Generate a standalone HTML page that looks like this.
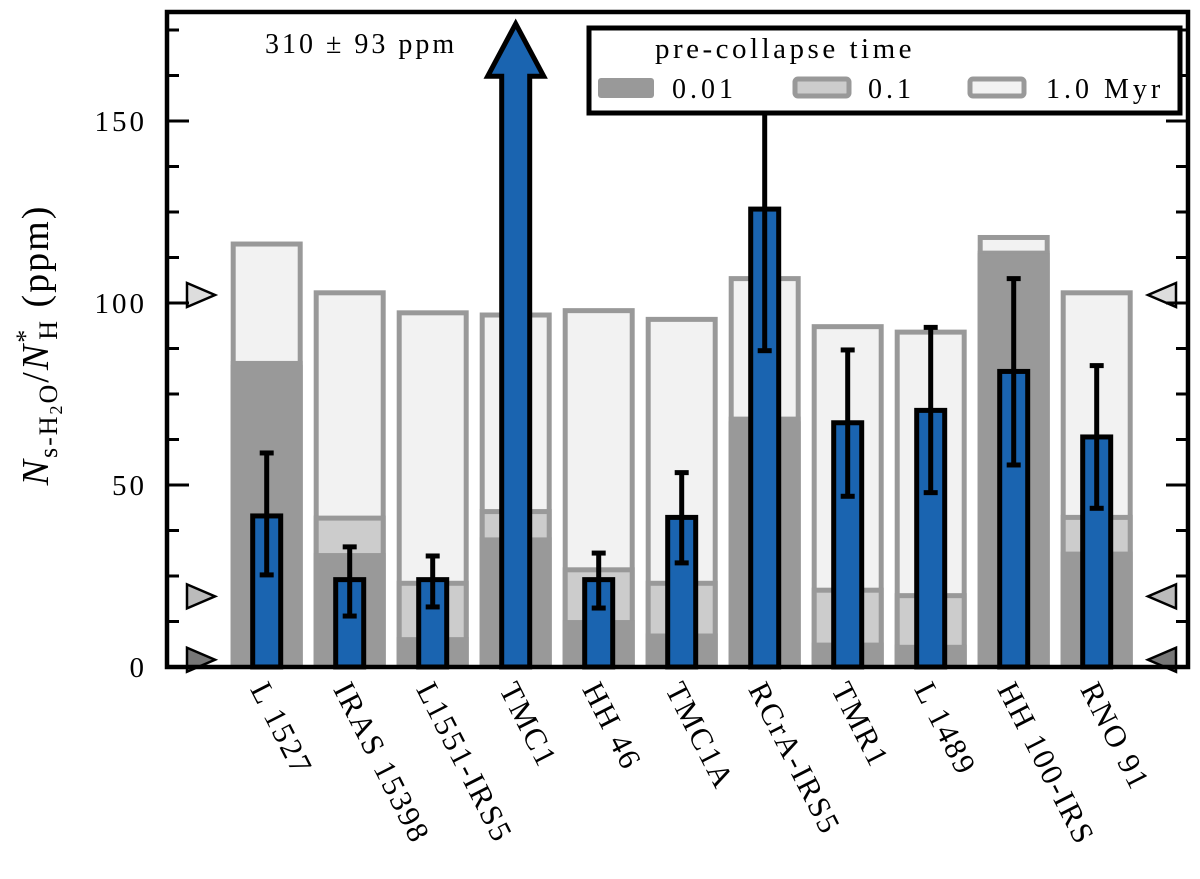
<!DOCTYPE html>
<html><head><meta charset="utf-8"><style>
body{margin:0;background:#fff}
svg text{font-family:"Liberation Serif",serif;fill:#000}
</style></head><body>
<svg id="chart" width="1200" height="874" viewBox="0 0 1200 874" xmlns="http://www.w3.org/2000/svg">
<g id="bg"></g><g id="bars"></g>
</svg>
<script>
const categories=["L 1527","IRAS 15398","L1551-IRS5","TMC1","HH 46","TMC1A","RCrA-IRS5","TMR1","L 1489","HH 100-IRS","RNO 91"];
const model001=[83,31.3,8.2,35.6,12.9,9.2,67.5,6.7,6.1,113.7,31.7];
const model01=[83.4,40.9,23,42.7,26.7,23,68.1,21.1,19.6,113.7,41.1];
const model10=[116.2,102.8,97.3,96.7,97.9,95.5,106.7,93.5,92,118,102.8];
const observed=[41.5,24,24,310,24,41.1,125.8,67.1,70.5,81.2,63.2];
const errLow=[25.3,14,16.5,217,16.2,28.6,86.9,46.9,47.9,55.5,43.6];
const errHigh=[58.8,33,30.5,403,31.3,53.4,164.7,87.1,93.3,106.7,82.8];
const yTicks=[0,50,100,150];
const markerVals=[2,19.4,102.2];

const NS="http://www.w3.org/2000/svg";
const svg=document.getElementById('chart');
const bg=document.getElementById('bg'), fg=document.getElementById('bars');
const X0=167,X1=1188,Y0=12,Y1=667;
const y=v=>Y1-v*3.64;
const x=i=>266.7+83*i;
function el(t,a,p){const e=document.createElementNS(NS,t);for(const k in a)e.setAttribute(k,a[k]);(p||svg).appendChild(e);return e;}

const clip=el('clipPath',{id:'pc'});el('rect',{x:X0,y:Y0,width:X1-X0,height:Y1-Y0},clip);
bg.setAttribute('clip-path','url(#pc)');

categories.forEach((c,i)=>{
  const cx=x(i),w=67;
  const r1=el('rect',{x:cx-w/2,y:y(model10[i]),width:w,height:Y1-y(model10[i])+5,fill:'#f2f2f2',stroke:'#999','stroke-width':5},bg);
  
  
  const r2=el('rect',{x:cx-w/2,y:y(model01[i]),width:w,height:Y1-y(model01[i])+5,fill:'#ccc',stroke:'#999','stroke-width':5},bg);
  
  
  const r3=el('rect',{x:cx-w/2-2.5,y:y(model001[i]),width:w+5,height:Y1-y(model001[i]),fill:'#999'},bg);
  
  

  if(observed[i]>180){
    const top=y(176.7),hb=y(162.3);
    const a=el('polygon',{points:`${cx-14},${Y1} ${cx-14},${hb} ${cx-28},${hb} ${cx},${top} ${cx+28},${hb} ${cx+14},${hb} ${cx+14},${Y1}`,fill:'#1a64b0',stroke:'#000','stroke-width':5,'stroke-linejoin':'miter'},fg);
    
    
  } else {
    const b=el('rect',{x:cx-14,y:y(observed[i]),width:28,height:Y1-y(observed[i]),fill:'#1a64b0',stroke:'#000','stroke-width':5},fg);
    
    
    const g=el('g',{stroke:'#000','stroke-width':5},fg);
    
    
    el('line',{x1:cx,x2:cx,y1:y(errLow[i]),y2:Math.max(y(errHigh[i]),Y0)},g);
    el('line',{x1:cx-7,x2:cx+7,y1:y(errLow[i]),y2:y(errLow[i])},g);
    if(y(errHigh[i])>120) el('line',{x1:cx-7,x2:cx+7,y1:y(errHigh[i]),y2:y(errHigh[i])},g);
  }
  const t=el('text',{x:0,y:0,'font-size':31,'letter-spacing':2,transform:`translate(${cx-17},${Y1+22}) rotate(63)`});
  t.textContent=c;
  
  
});

// markers
const mcol=['#777','#bbb','#ddd'];
markerVals.forEach((v,k)=>{
  const yy=y(v);
  const l=el('polygon',{points:`${187},${yy-12} ${215},${yy} ${187},${yy+12}`,fill:mcol[k],stroke:'#000','stroke-width':2.5});
  
  
  const r=el('polygon',{points:`${1176},${yy-12} ${1148},${yy} ${1176},${yy+12}`,fill:mcol[k],stroke:'#000','stroke-width':2.5});
  
  
});

// ticks
for(let v=0;v<=175;v+=12.5){
  const len=(v%50===0)?22:12;
  el('line',{x1:X0,x2:X0+len,y1:y(v),y2:y(v),stroke:'#000','stroke-width':3});
  el('line',{x1:X1-len,x2:X1,y1:y(v),y2:y(v),stroke:'#000','stroke-width':3});
}
yTicks.forEach(v=>{
  const t=el('text',{x:147,y:y(v)+10,'font-size':29,'letter-spacing':3,'text-anchor':'end'});
  t.textContent=v;
  
  
});
const fr=el('rect',{x:X0,y:Y0,width:X1-X0,height:Y1-Y0,fill:'none',stroke:'#000','stroke-width':4.5});


</script>
<svg style="position:absolute;left:0;top:0" width="1200" height="874" xmlns="http://www.w3.org/2000/svg">
<text x="265" y="53" font-size="28" letter-spacing="3" style="font-family:'Liberation Serif',serif">310 ± 93 ppm</text>
<g>
<rect x="589" y="28" width="591" height="85" fill="#fff" stroke="#000" stroke-width="5"/>
<text x="785" y="58" font-size="29" letter-spacing="3.5" text-anchor="middle" style="font-family:'Liberation Serif',serif">pre-collapse time</text>
<rect x="598" y="78" width="56" height="20" rx="3" fill="#999"/>
<text x="672" y="98" font-size="28" letter-spacing="4" style="font-family:'Liberation Serif',serif">0.01</text>
<rect x="795" y="79" width="54" height="17" rx="3" fill="#ccc" stroke="#999" stroke-width="5"/>
<text x="868" y="98" font-size="28" letter-spacing="4" style="font-family:'Liberation Serif',serif">0.1</text>
<rect x="970" y="79" width="54" height="17" rx="3" fill="#f2f2f2" stroke="#999" stroke-width="5"/>
<text x="1046" y="98" font-size="28" letter-spacing="4" style="font-family:'Liberation Serif',serif">1.0 Myr</text>
</g>
<text transform="translate(48,345) rotate(-90)" font-size="38" letter-spacing="2" text-anchor="middle" style="font-family:'Liberation Serif',serif"><tspan font-style="italic">N</tspan><tspan font-size="26" dy="9">s-H</tspan><tspan font-size="18" dy="5">2</tspan><tspan font-size="26" dy="-5">O</tspan><tspan dy="-9">/</tspan><tspan font-style="italic">N</tspan><tspan font-size="26" dy="-14">*</tspan><tspan font-size="26" dx="-12" dy="23">H</tspan><tspan dy="-9"> (ppm)</tspan></text>
</svg>
</body></html>
